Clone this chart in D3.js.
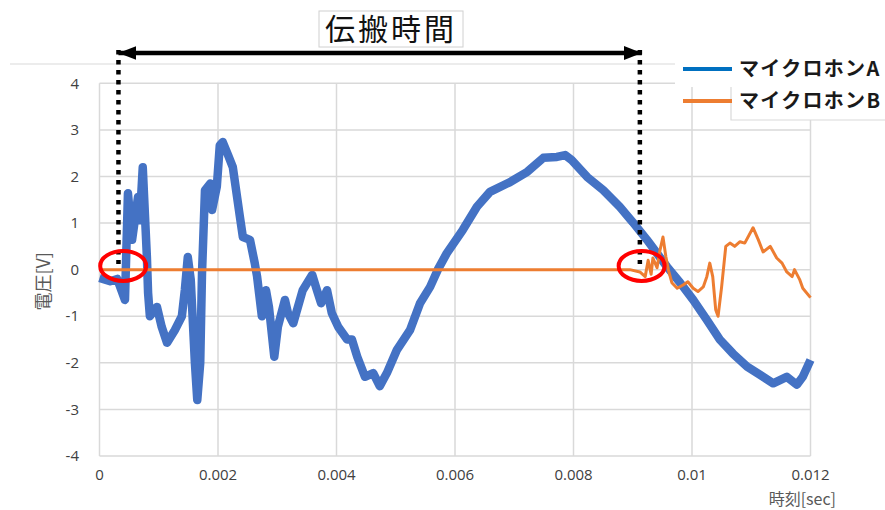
<!DOCTYPE html>
<html>
<head>
<meta charset="utf-8">
<script src="https://cdn.jsdelivr.net/npm/d3@7"></script>
<style>
  body { margin: 0; background: #fff; }
  svg { display: block; }
</style>
</head>
<body>
<div id="chart"></div>
<script>
// time [sec], voltage [V]
var micA = [
  [0, -0.18], [0.00018, -0.25], [0.00030, -0.2], [0.00043, -0.65], [0.00048, 1.64],
  [0.00055, 0.64], [0.00065, 1.56], [0.00068, 1.06], [0.00073, 2.2], [0.00080, 0.27],
  [0.00082, -0.5], [0.00085, -1.0], [0.00097, -0.8], [0.00105, -1.23], [0.00114, -1.57],
  [0.00127, -1.3], [0.00139, -1.0], [0.00144, -0.44], [0.00149, 0.27], [0.00154, -0.22],
  [0.00161, -2.0], [0.00165, -2.8], [0.00170, -2.0], [0.00173, -0.08], [0.00178, 1.7],
  [0.00187, 1.85], [0.00190, 1.28], [0.00198, 1.78], [0.00203, 2.67], [0.00208, 2.74],
  [0.00217, 2.46], [0.00225, 2.2], [0.00237, 1.13], [0.00242, 0.7], [0.00254, 0.64],
  [0.00262, 0.14], [0.00266, -0.15], [0.00274, -1.0], [0.00281, -0.44], [0.00286, -0.8],
  [0.00295, -1.87], [0.00301, -1.23], [0.00313, -0.65], [0.00318, -0.93], [0.00327, -1.15],
  [0.00343, -0.44], [0.00359, -0.11], [0.00367, -0.44], [0.00374, -0.72], [0.00384, -0.44],
  [0.00392, -0.93], [0.00403, -1.23], [0.00418, -1.5], [0.00426, -1.5], [0.00435, -1.87],
  [0.00448, -2.3], [0.00462, -2.22], [0.00473, -2.5], [0.00485, -2.22], [0.00502, -1.72],
  [0.00524, -1.3], [0.00541, -0.72], [0.00558, -0.37], [0.00571, 0.0], [0.00586, 0.35],
  [0.00613, 0.85], [0.00637, 1.35], [0.00659, 1.67], [0.00693, 1.88], [0.00722, 2.1],
  [0.00749, 2.4], [0.00772, 2.42], [0.00786, 2.46], [0.00797, 2.35], [0.00823, 1.99],
  [0.00850, 1.71], [0.00878, 1.35], [0.00900, 1.02], [0.00924, 0.64], [0.00941, 0.35],
  [0.00958, 0.06], [0.00980, -0.28], [0.01002, -0.65], [0.01025, -1.08], [0.01047, -1.5],
  [0.01069, -1.8], [0.01093, -2.08], [0.01115, -2.26], [0.01137, -2.44], [0.01160, -2.3],
  [0.01177, -2.47], [0.01187, -2.3], [0.01200, -1.94]
];

var micB = [
  [0, 0], [0.002, 0], [0.004, 0], [0.006, 0], [0.008, 0], [0.00895, 0],
  [0.00912, -0.05], [0.00921, -0.15], [0.00926, 0.2], [0.00931, -0.1], [0.00934, 0.25],
  [0.00941, 0.04], [0.00946, 0.42], [0.00951, 0.7], [0.00956, 0.27], [0.00960, 0],
  [0.00966, -0.28], [0.00975, -0.4], [0.00985, -0.33], [0.00993, -0.26], [0.01002, -0.4],
  [0.01010, -0.47], [0.01019, -0.37], [0.01025, -0.15], [0.01030, 0.14], [0.01035, -0.15],
  [0.01040, -0.86], [0.01044, -1.0], [0.01050, -0.37], [0.01057, 0.5], [0.01064, 0.57],
  [0.01072, 0.5], [0.01081, 0.6], [0.01089, 0.57], [0.01103, 0.9], [0.01112, 0.64],
  [0.01120, 0.38], [0.01132, 0.5], [0.01143, 0.25], [0.01152, 0.14], [0.01160, -0.05],
  [0.01169, -0.15], [0.01173, 0], [0.01182, -0.22], [0.01187, -0.4], [0.01200, -0.6]
];

var seriesNames = ["マイクロホンA", "マイクロホンB"];
var xTicks = [0, 0.002, 0.004, 0.006, 0.008, 0.01, 0.012];
var yTicks = [-4, -3, -2, -1, 0, 1, 2, 3, 4];
var arrivalTimes = [0.00032, 0.00912];   // dotted markers
var titleText = "伝搬時間";

var width = 885,
  height = 510;

var x = d3.scaleLinear().domain([0, 0.012]).range([99.5, 810.5]);
var y = d3.scaleLinear().domain([-4, 4]).range([456, 83.3]);

var svg = d3.select("#chart").append("svg")
    .attr("width", width)
    .attr("height", height);

svg.append("rect")
    .attr("width", width)
    .attr("height", height)
    .attr("fill", "#fff");

// thin frame line above the plot
svg.append("line")
    .attr("x1", 10).attr("x2", 885)
    .attr("y1", 64).attr("y2", 64)
    .attr("stroke", "#d9d9d9")
    .attr("stroke-width", 1.2);

// grid
svg.append("g").selectAll("line")
    .data(yTicks)
  .enter().append("line")
    .attr("x1", x(0)).attr("x2", x(0.012))
    .attr("y1", function(d) { return y(d); })
    .attr("y2", function(d) { return y(d); })
    .attr("stroke", "#d9d9d9")
    .attr("stroke-width", 1.5);

svg.append("g").selectAll("line")
    .data(xTicks)
  .enter().append("line")
    .attr("x1", function(d) { return x(d); })
    .attr("x2", function(d) { return x(d); })
    .attr("y1", y(4)).attr("y2", y(-4))
    .attr("stroke", "#d9d9d9")
    .attr("stroke-width", 1.5);

// tick labels
svg.append("g").selectAll("text")
    .data(yTicks)
  .enter().append("text")
    .attr("x", 79)
    .attr("y", function(d) { return y(d); })
    .attr("dy", "0.35em")
    .attr("text-anchor", "end")
    .attr("font-family", "'Open Sans', 'Noto Sans', sans-serif")
    .attr("font-size", 15)
    .attr("fill", "#404040")
    .text(function(d) { return d; });

svg.append("g").selectAll("text")
    .data(xTicks)
  .enter().append("text")
    .attr("x", function(d) { return x(d); })
    .attr("y", 475)
    .attr("dy", "0.35em")
    .attr("text-anchor", "middle")
    .attr("font-family", "'Open Sans', 'Noto Sans', sans-serif")
    .attr("font-size", 15)
    .attr("fill", "#404040")
    .text(function(d) { return d; });

// axis titles
svg.append("text")
    .attr("transform", "translate(44," + y(-0.25) + ") rotate(-90)")
    .attr("text-anchor", "middle")
    .attr("dy", "0.35em")
    .attr("font-family", "'Noto Sans CJK JP', sans-serif")
    .attr("font-size", 18)
    .attr("fill", "#595959")
    .text("電圧[V]");

svg.append("text")
    .attr("x", 836)
    .attr("y", 505)
    .attr("text-anchor", "end")
    .attr("font-family", "'Noto Sans CJK JP', sans-serif")
    .attr("font-size", 16)
    .attr("fill", "#595959")
    .text("時刻[sec]");

// traces
var line = d3.line()
    .x(function(d) { return x(d[0]); })
    .y(function(d) { return y(d[1]); });

svg.append("path")
    .datum(micA)
    .attr("fill", "none")
    .attr("stroke", "#4472C4")
    .attr("stroke-width", 8.5)
    .attr("stroke-linejoin", "round")
    .attr("d", line);

svg.append("path")
    .datum(micB)
    .attr("fill", "none")
    .attr("stroke", "#ED7D31")
    .attr("stroke-width", 3)
    .attr("stroke-linejoin", "round")
    .attr("d", line);

// legend
svg.append("rect")
    .attr("x", 675).attr("y", 45)
    .attr("width", 210).attr("height", 42)
    .attr("fill", "#fff");
svg.append("rect")
    .attr("x", 731).attr("y", 86)
    .attr("width", 154).attr("height", 34)
    .attr("fill", "#fff");
svg.append("path")
    .attr("d", "M731,87V120H885")
    .attr("fill", "none")
    .attr("stroke", "#d9d9d9")
    .attr("stroke-width", 1.2);

var legendColors = ["#0070C0", "#ED7D31"];
var legend = svg.append("g").selectAll("g")
    .data(seriesNames)
  .enter().append("g")
    .attr("transform", function(d, i) { return "translate(0," + (69 + i * 32) + ")"; });

legend.append("line")
    .attr("x1", 683).attr("x2", 732)
    .attr("stroke", function(d, i) { return legendColors[i]; })
    .attr("stroke-width", 4);

legend.append("text")
    .attr("x", 739)
    .attr("dy", "0.35em")
    .attr("font-family", "'Noto Sans CJK JP', sans-serif")
    .attr("font-weight", "bold")
    .attr("font-size", 20)
    .attr("letter-spacing", 1.3)
    .attr("fill", "#1a1a1a")
    .text(function(d) { return d; });

// propagation time annotation
var arrowY = 53;

svg.selectAll(".marker")
    .data(arrivalTimes)
  .enter().append("line")
    .attr("class", "marker")
    .attr("x1", function(d) { return x(d); })
    .attr("x2", function(d) { return x(d); })
    .attr("y1", arrowY - 3)
    .attr("y2", y(0.12))
    .attr("stroke", "#000")
    .attr("stroke-width", 4.5)
    .attr("stroke-dasharray", "4.5,5.5");

var defs = svg.append("defs");
defs.append("marker")
    .attr("id", "head")
    .attr("markerUnits", "userSpaceOnUse")
    .attr("viewBox", "0 0 18 14")
    .attr("refX", 18).attr("refY", 7)
    .attr("markerWidth", 18).attr("markerHeight", 14)
    .attr("orient", "auto-start-reverse")
  .append("path")
    .attr("d", "M0,0L18,7L0,14Z")
    .attr("fill", "#000");

svg.append("line")
    .attr("x1", x(arrivalTimes[0])).attr("x2", x(arrivalTimes[1]) + 2)
    .attr("y1", arrowY).attr("y2", arrowY)
    .attr("stroke", "#000")
    .attr("stroke-width", 4.5)
    .attr("marker-start", "url(#head)")
    .attr("marker-end", "url(#head)");

// red circles at the onsets
svg.selectAll(".onset")
    .data([0.00040, 0.00915])
  .enter().append("ellipse")
    .attr("class", "onset")
    .attr("cx", function(d) { return x(d); })
    .attr("cy", y(0.08))
    .attr("rx", 23)
    .attr("ry", 15)
    .attr("fill", "none")
    .attr("stroke", "#FF0000")
    .attr("stroke-width", 4);

// title box
var titleG = svg.append("g").attr("transform", "translate(391,29)");
titleG.append("rect")
    .attr("x", -72).attr("y", -18)
    .attr("width", 144).attr("height", 36)
    .attr("fill", "#fff")
    .attr("stroke", "#d0d0d0")
    .attr("stroke-width", 1);
titleG.append("text")
    .attr("text-anchor", "middle")
    .attr("dy", "0.36em")
    .attr("font-family", "'Noto Sans CJK JP', sans-serif")
    .attr("font-size", 30)
    .attr("letter-spacing", 3)
    .attr("fill", "#111")
    .text(titleText);
</script>
</body>
</html>
